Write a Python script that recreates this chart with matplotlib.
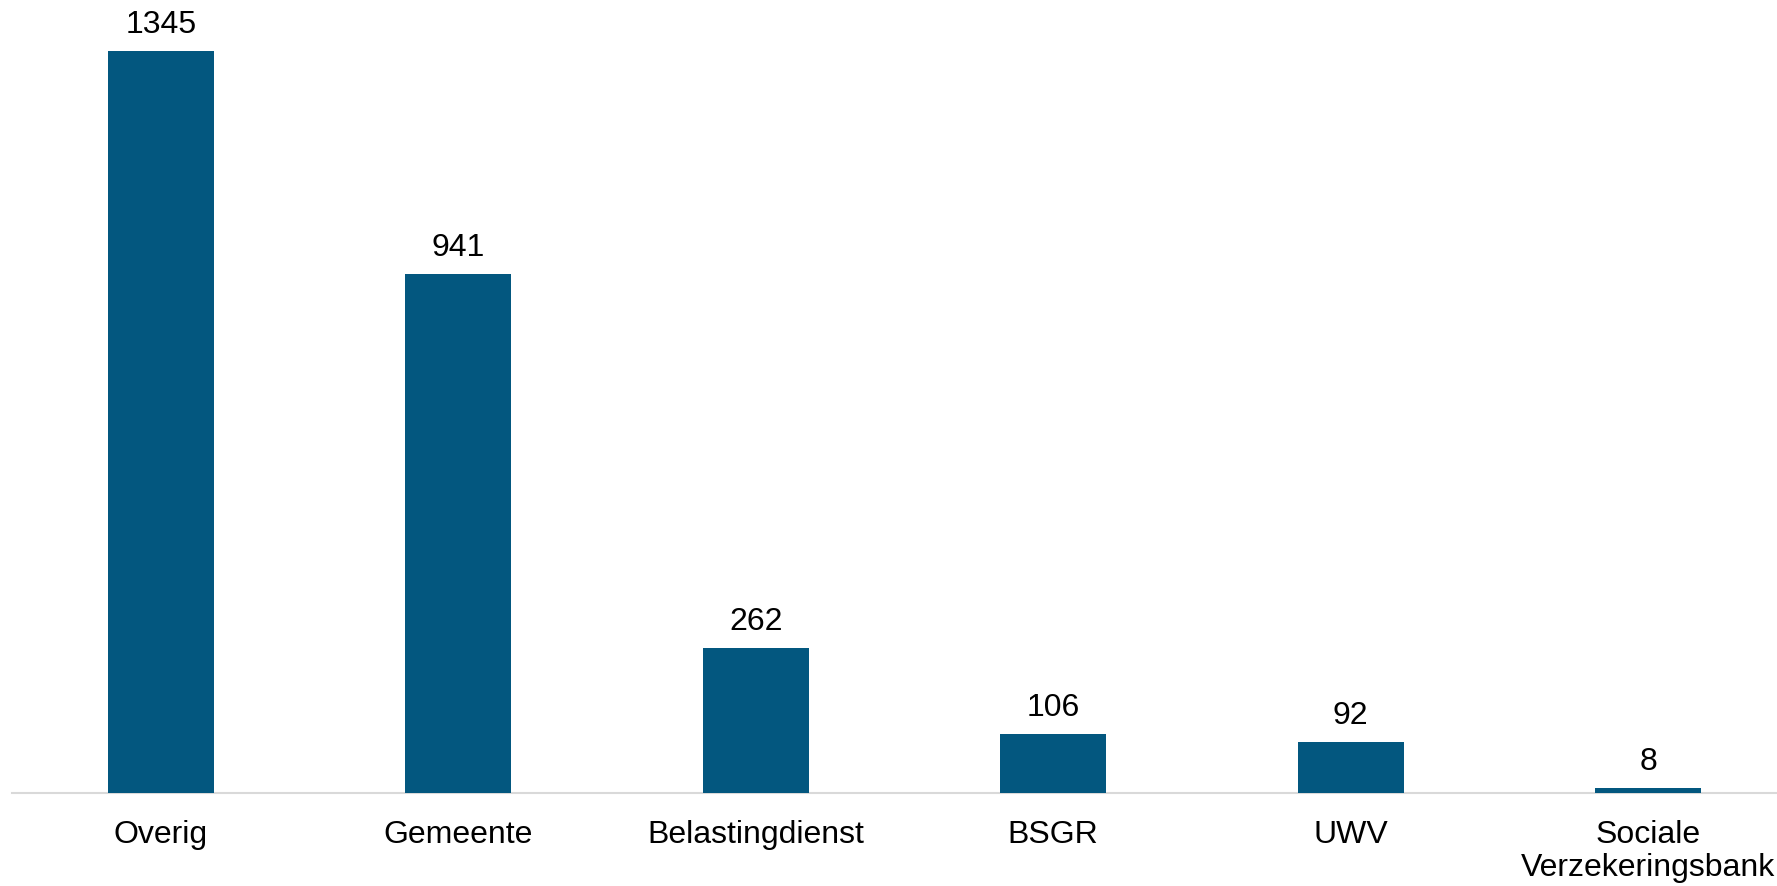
import matplotlib
matplotlib.use("Agg")
import matplotlib.pyplot as plt

categories = ["Overig", "Gemeente", "Belastingdienst", "BSGR", "UWV", "Sociale\nVerzekeringsbank"]
values = [1345, 941, 262, 106, 92, 8]

plt.rcParams['font.family'] = ['Liberation Sans', 'DejaVu Sans']

fig = plt.figure(figsize=(17.77, 8.86), dpi=100)
W, H = 1777, 886
left_px, right_px = 12, 1797
bottom_px = 792.7
ax = fig.add_axes([left_px / W, (H - bottom_px) / H, (right_px - left_px) / W, bottom_px / H])

x = list(range(len(categories)))
bars = ax.bar(x, values, width=0.355, color="#03577f", zorder=2)
ax.bar_label(bars, labels=[str(v) for v in values], padding=8, fontsize=23, color="black")

ax.set_xlim(-0.5, len(categories) - 0.5)
ax.set_ylim(0, 1437)
ax.set_xticks(x)
ax.set_xticklabels(categories, fontsize=23, linespacing=1.12)
ax.tick_params(axis='x', length=0, pad=20)
ax.set_yticks([])
for s in ["top", "right", "left"]:
    ax.spines[s].set_visible(False)
ax.spines["bottom"].set_color("#d9d9d9")
ax.spines["bottom"].set_linewidth(1.5)
ax.spines["bottom"].set_zorder(1)

fig.savefig("out.png", dpi=100)
